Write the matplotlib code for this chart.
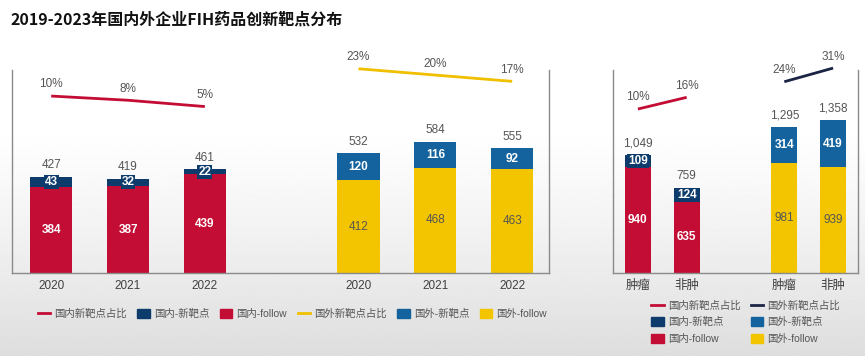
import numpy as np
import matplotlib.pyplot as plt
from matplotlib.lines import Line2D
from matplotlib.patches import Patch

plt.rcParams['font.family'] = ['Liberation Sans', 'Noto Sans CJK SC', 'DejaVu Sans']

# 2020-2022 by year
years = ['2020', '2021', '2022']
dom_new = [43, 32, 22]
dom_follow = [384, 387, 439]
dom_pct = [10, 8, 5]
for_new = [120, 116, 92]
for_follow = [412, 468, 463]
for_pct = [23, 20, 17]

# oncology vs non-oncology
kinds = ['肿瘤', '非肿']
kind_dom_new = [109, 124]
kind_dom_follow = [940, 635]
kind_dom_pct = [10, 16]
kind_for_new = [314, 419]
kind_for_follow = [981, 939]
kind_for_pct = [24, 31]

RED = '#c40d34'
NAVY = '#0d3b6b'
BLUE = '#14639e'
YELLOW = '#f3c500'
YLINE = '#f0c000'
DARK = '#1b2444'
GRAY = '#555555'
SPINE = '#8a8a8a'

fig = plt.figure(figsize=(8.65, 3.56), dpi=100)

# soft white -> grey background
bg = fig.add_axes([0, 0, 1, 1], zorder=-5)
g = np.linspace(0, 1, 256)
shade = 1.0 - 0.13 * np.clip((g - 0.35) / 0.65, 0, 1) ** 1.2
bg.imshow(shade[:, None], aspect='auto', cmap='gray', vmin=0, vmax=1,
          extent=[0, 1, 0, 1])
bg.axis('off')

fig.text(0.012, 0.945, '2019-2023年国内外企业FIH药品创新靶点分布', fontsize=11.5,
         fontweight='bold', color='#111111', va='center', ha='left',
         family=['Noto Sans CJK SC', 'DejaVu Sans'])


def stack(ax, xs, follow, new, c_follow, c_new, c_ftext, f_weight, width):
    ax.bar(xs, follow, width, color=c_follow, zorder=2)
    ax.bar(xs, new, width, bottom=follow, color=c_new, zorder=2)
    for x, f, n in zip(xs, follow, new):
        ax.text(x, f / 2, str(f), ha='center', va='center', color=c_ftext,
                fontsize=8.5, fontweight=f_weight, zorder=3)
        ax.text(x, f + n / 2, str(n), ha='center', va='center', color='white',
                fontsize=8.5, fontweight='bold', zorder=4,
                bbox=dict(boxstyle='square,pad=0.08', fc=c_new, ec='none'))
        ax.annotate(f'{f + n:,}', (x, f + n), xytext=(0, 4),
                    textcoords='offset points', ha='center', va='bottom',
                    color=GRAY, fontsize=8.5)


def pct_line(ax2, xs, pct, color):
    ax2.plot(xs, pct, color=color, lw=2, clip_on=False, solid_capstyle='butt')
    for x, p in zip(xs, pct):
        ax2.annotate(f'{p}%', (x, p), xytext=(0, 4), textcoords='offset points',
                     ha='center', va='bottom', color=GRAY, fontsize=8.5,
                     annotation_clip=False)


def style(ax, ax2, xlim, ylim, ylim2):
    ax.set_facecolor('none')
    ax.set_xlim(*xlim)
    ax.set_ylim(*ylim)
    ax.set_yticks([])
    ax.spines['top'].set_visible(False)
    for s in ['left', 'right', 'bottom']:
        ax.spines[s].set_color(SPINE)
        ax.spines[s].set_linewidth(1)
    ax.tick_params(axis='x', length=0, pad=5, labelcolor='#404040')
    ax2.set_ylim(*ylim2)
    ax2.set_yticks([])
    for s in ax2.spines.values():
        s.set_visible(False)


# left panel: by year
ax = fig.add_axes([0.0139, 0.2331, 0.6208, 0.5702])
ax2 = ax.twinx()
xd = [0, 1, 2]
xf = [4, 5, 6]
stack(ax, xd, dom_follow, dom_new, RED, NAVY, 'white', 'bold', 0.55)
stack(ax, xf, for_follow, for_new, YELLOW, BLUE, GRAY, 'normal', 0.55)
pct_line(ax2, xd, dom_pct, RED)
pct_line(ax2, xf, for_pct, YLINE)
ax.set_xticks(xd + xf, years + years, fontsize=8.5)
style(ax, ax2, (-0.51, 6.48), (0, 903), (-74.3, 22.4))

# right panel: oncology vs non-oncology
bx = fig.add_axes([0.7087, 0.2331, 0.2832, 0.5702])
bx2 = bx.twinx()
kd = [0, 1]
kf = [3, 4]
stack(bx, kd, kind_dom_follow, kind_dom_new, RED, NAVY, 'white', 'bold', 0.53)
stack(bx, kf, kind_for_follow, kind_for_new, YELLOW, BLUE, GRAY, 'normal', 0.53)
pct_line(bx2, kd, kind_dom_pct, RED)
pct_line(bx2, kf, kind_for_pct, DARK)
bx.set_xticks(kd + kf, kinds + kinds, fontsize=9)
style(bx, bx2, (-0.51, 4.51), (0, 1805), (-74.1, 30.0))

# legends
left_handles = [
    Line2D([], [], color=RED, lw=2),
    Patch(color=NAVY),
    Patch(color=RED),
    Line2D([], [], color=YLINE, lw=2),
    Patch(color=BLUE),
    Patch(color=YELLOW),
]
left_labels = ['国内新靶点占比', '国内-新靶点', '国内-follow',
               '国外新靶点占比', '国外-新靶点', '国外-follow']
fig.legend(left_handles, left_labels, loc='center', bbox_to_anchor=(0.338, 0.118),
           ncol=6, frameon=False, fontsize=7.5, labelcolor=GRAY,
           handlelength=1.2, handleheight=1.0, handletextpad=0.4, columnspacing=1.0)

right_handles = [
    Line2D([], [], color=RED, lw=2),
    Patch(color=NAVY),
    Patch(color=RED),
    Line2D([], [], color=DARK, lw=2),
    Patch(color=BLUE),
    Patch(color=YELLOW),
]
right_labels = ['国内新靶点占比', '国内-新靶点', '国内-follow',
                '国外新靶点占比', '国外-新靶点', '国外-follow']
fig.legend(right_handles, right_labels, loc='center', bbox_to_anchor=(0.862, 0.095),
           ncol=2, frameon=False, fontsize=7.5, labelcolor=GRAY,
           handlelength=1.2, handleheight=1.0, handletextpad=0.4,
           columnspacing=1.0, labelspacing=0.6)

fig.savefig('out.png', dpi=100)
